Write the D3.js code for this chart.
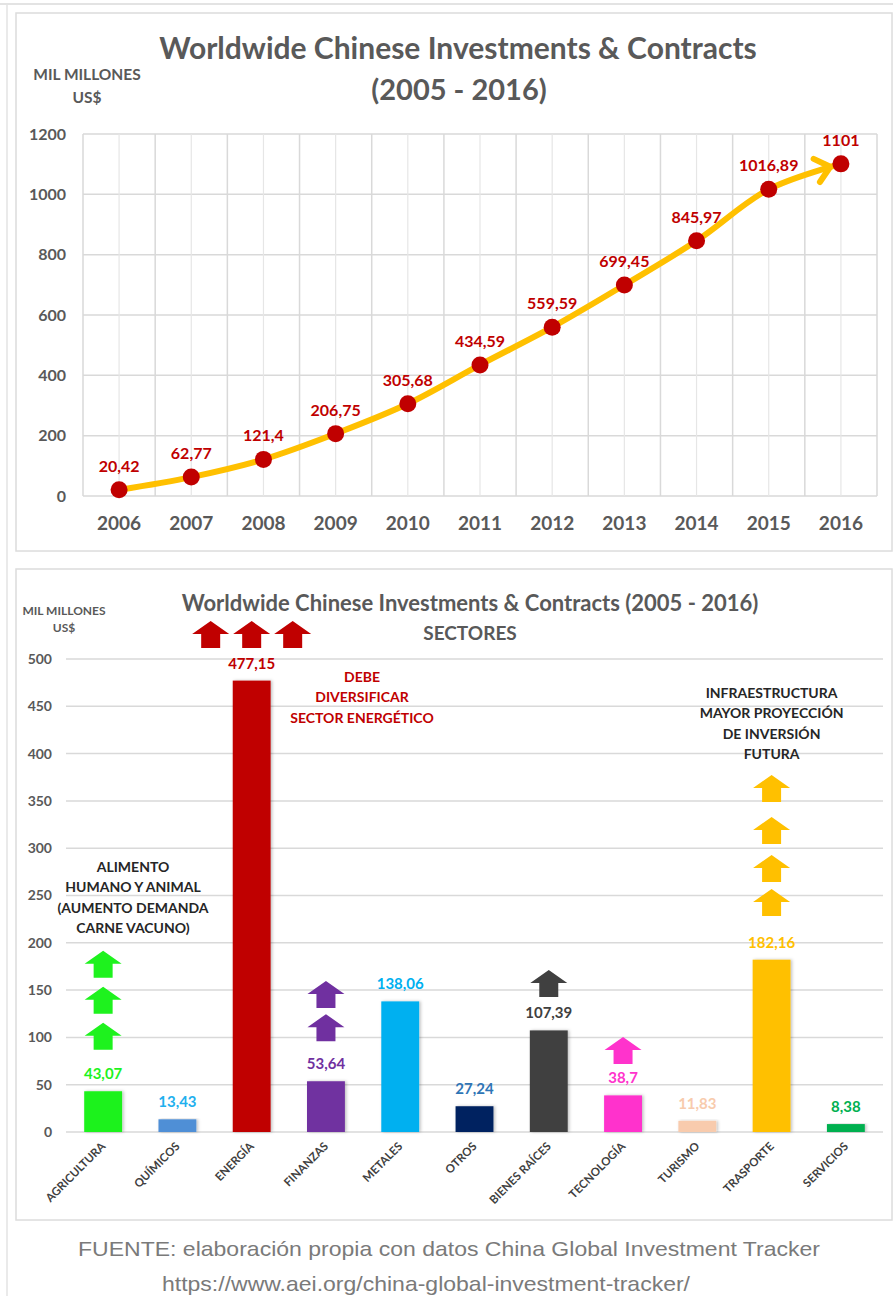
<!DOCTYPE html>
<html>
<head>
<meta charset="utf-8">
<script src="https://cdn.jsdelivr.net/npm/d3@7"></script>
<style>
  html, body { margin: 0; padding: 0; background: #ffffff; }
</style>
</head>
<body>
<svg id="page" width="893" height="1296"></svg>
<script>
// ---- Line chart: total Chinese investments & contracts (billion US$) ----
const years = [2006, 2007, 2008, 2009, 2010, 2011, 2012, 2013, 2014, 2015, 2016];
const totals = [20.42, 62.77, 121.4, 206.75, 305.68, 434.59, 559.59, 699.45, 845.97, 1016.89, 1101];
const totalTicks = [0, 200, 400, 600, 800, 1000, 1200];

// ---- Bar chart: by sector ----
const sectors = ["AGRICULTURA", "QUÍMICOS", "ENERGÍA", "FINANZAS", "METALES", "OTROS",
                 "BIENES RAÍCES", "TECNOLOGÍA", "TURISMO", "TRASPORTE", "SERVICIOS"];
const sectorValues = [43.07, 13.43, 477.15, 53.64, 138.06, 27.24, 107.39, 38.7, 11.83, 182.16, 8.38];
const sectorTicks = [0, 50, 100, 150, 200, 250, 300, 350, 400, 450, 500];
const barColors = ["#1ef21e", "#4f8fd6", "#c00000", "#7030a0", "#00b0f0", "#002060",
                   "#404040", "#ff33cc", "#f8cbad", "#ffc000", "#00b050"];
const barLabelColors = ["#1ef21e", "#1fb0ee", "#c00000", "#7030a0", "#00b0f0", "#2e75b6",
                        "#404040", "#ff33cc", "#f8cbad", "#ffc000", "#00b050"];

// Growth arrows: sector, colour, and the value at which each arrow's base sits
const growthArrows = [
  { sector: "ENERGÍA",       color: "#c00000", bases: [511.6], count: 3 },
  { sector: "AGRICULTURA",   color: "#1ef21e", bases: [163, 125, 87], count: 1 },
  { sector: "FINANZAS",      color: "#7030a0", bases: [131, 96], count: 1 },
  { sector: "BIENES RAÍCES", color: "#404040", bases: [142.7], count: 1 },
  { sector: "TECNOLOGÍA",    color: "#ff33cc", bases: [71.9], count: 1 },
  { sector: "TRASPORTE",     color: "#ffc000", bases: [348.8, 304.4, 264.3, 228.3], count: 1 }
];

const fmt = v => String(v).replace(".", ",");
const GRID = "#d9d9d9";
const AXIS_TEXT = "#595959";
const FONT = "Lato, 'Open Sans', sans-serif";

const svg = d3.select("#page").style("font-family", FONT);
svg.append("rect").attr("width", 893).attr("height", 1296).attr("fill", "#fff");
const defs = svg.append("defs");

// page frame and chart boxes
svg.append("line").attr("x1", 0).attr("x2", 893).attr("y1", 4).attr("y2", 4)
  .attr("stroke", "#e3e3e3").attr("stroke-width", 2);
svg.append("line").attr("x1", 7).attr("x2", 7).attr("y1", 4).attr("y2", 1296)
  .attr("stroke", "#e3e3e3").attr("stroke-width", 1.5);
svg.append("rect").attr("x", 16).attr("y", 13).attr("width", 876).attr("height", 538)
  .attr("fill", "#fff").attr("stroke", "#dcdcdc").attr("stroke-width", 1.5);
svg.append("rect").attr("x", 16).attr("y", 569).attr("width", 876).attr("height", 651)
  .attr("fill", "#fff").attr("stroke", "#dcdcdc").attr("stroke-width", 1.5);

// ================= LINE CHART =================
{
  const x = d3.scaleBand().domain(years).range([83, 877]).padding(0);
  const y = d3.scaleLinear().domain([0, 1200]).range([496, 134]);
  const cx = d => x(d) + x.bandwidth() / 2;
  const g = svg.append("g");

  // grid: horizontal at ticks, vertical at category edges and centres
  g.selectAll(".hg").data(totalTicks).join("line")
    .attr("x1", 83).attr("x2", 877).attr("y1", d => y(d)).attr("y2", d => y(d))
    .attr("stroke", GRID).attr("stroke-width", 1.5);
  const edges = years.map(d => x(d)).concat([x(years[years.length - 1]) + x.bandwidth()]);
  g.selectAll(".vg").data(edges).join("line")
    .attr("x1", d => d).attr("x2", d => d).attr("y1", y(1200)).attr("y2", y(0))
    .attr("stroke", GRID).attr("stroke-width", 1.5);
  g.selectAll(".vc").data(years).join("line")
    .attr("x1", d => cx(d)).attr("x2", d => cx(d)).attr("y1", y(1200)).attr("y2", y(0))
    .attr("stroke", "#e6e6e6").attr("stroke-width", 1.2);

  // axes
  const ya = g.append("g").attr("transform", "translate(83,0)")
    .call(d3.axisLeft(y).tickValues(totalTicks).tickFormat(d3.format("d"))
      .tickSize(0).tickPadding(17));
  ya.select(".domain").remove();
  ya.selectAll("text").attr("font-size", 16).attr("font-weight", 700)
    .attr("fill", AXIS_TEXT).attr("font-family", FONT);

  const xa = g.append("g").attr("transform", `translate(0,${y(0)})`)
    .call(d3.axisBottom(x).tickFormat(d3.format("d")).tickSize(0).tickPadding(21));
  xa.select(".domain").remove();
  xa.selectAll("text").attr("font-size", 19).attr("font-weight", 700)
    .attr("fill", AXIS_TEXT).attr("font-family", FONT);

  // smoothed trend line with an open arrow head
  defs.append("marker").attr("id", "vhead")
    .attr("markerUnits", "userSpaceOnUse").attr("orient", "auto")
    .attr("viewBox", "-24 -16 40 32").attr("markerWidth", 40).attr("markerHeight", 32)
    .attr("refX", 11).attr("refY", 0)
    .style("overflow", "visible")
    .append("path").attr("d", "M-14,-12 L0,0 L-14,12")
    .attr("fill", "none").attr("stroke", "#ffc000").attr("stroke-width", 6)
    .attr("stroke-linecap", "round").attr("stroke-linejoin", "round");

  const pts = years.map((yr, i) => [cx(yr), y(totals[i])]);
  g.append("path").datum(pts)
    .attr("d", d3.line().curve(d3.curveCatmullRom.alpha(0.5)))
    .attr("fill", "none").attr("stroke", "#ffc000").attr("stroke-width", 6)
    .attr("stroke-linecap", "round").attr("marker-end", "url(#vhead)");

  g.selectAll(".pt").data(years).join("circle")
    .attr("cx", d => cx(d)).attr("cy", (d, i) => y(totals[i])).attr("r", 8.5)
    .attr("fill", "#c00000");

  g.selectAll(".lbl").data(years).join("text")
    .attr("x", d => cx(d)).attr("y", (d, i) => y(totals[i]) - 18)
    .attr("text-anchor", "middle").attr("font-size", 16).attr("font-weight", 700)
    .attr("fill", "#c00000").text((d, i) => fmt(totals[i]));

  // titles
  g.append("text").attr("x", 458).attr("y", 59).attr("text-anchor", "middle")
    .attr("font-size", 30).attr("font-weight", 700).attr("fill", AXIS_TEXT)
    .text("Worldwide Chinese Investments & Contracts");
  g.append("text").attr("x", 459).attr("y", 100).attr("text-anchor", "middle")
    .attr("font-size", 29).attr("font-weight", 700).attr("fill", AXIS_TEXT)
    .text("(2005 - 2016)");
  g.append("text").attr("x", 87).attr("y", 80).attr("text-anchor", "middle")
    .attr("font-size", 15.5).attr("font-weight", 700).attr("fill", AXIS_TEXT)
    .text("MIL MILLONES");
  g.append("text").attr("x", 87).attr("y", 103).attr("text-anchor", "middle")
    .attr("font-size", 15.5).attr("font-weight", 700).attr("fill", AXIS_TEXT)
    .text("US$");
}

// ================= BAR CHART =================
{
  const x = d3.scaleBand().domain(sectors).range([66, 883]).paddingInner(0.49).paddingOuter(0.245);
  const y = d3.scaleLinear().domain([0, 500]).range([1132, 659]);
  const cx = d => x(d) + x.bandwidth() / 2;
  const g = svg.append("g");

  g.selectAll(".hg").data(sectorTicks).join("line")
    .attr("x1", 66).attr("x2", 883).attr("y1", d => y(d)).attr("y2", d => y(d))
    .attr("stroke", GRID).attr("stroke-width", 1.5);

  const ya = g.append("g").attr("transform", "translate(66,0)")
    .call(d3.axisLeft(y).tickValues(sectorTicks).tickFormat(d3.format("d"))
      .tickSize(0).tickPadding(14));
  ya.select(".domain").remove();
  ya.selectAll("text").attr("font-size", 14).attr("font-weight", 700)
    .attr("fill", AXIS_TEXT).attr("font-family", FONT);

  // soft shadow beside the bars
  const f = defs.append("filter").attr("id", "barShadow")
    .attr("x", "-20%").attr("y", "-10%").attr("width", "140%").attr("height", "120%");
  f.append("feDropShadow").attr("dx", 1.5).attr("dy", 0).attr("stdDeviation", 1.5)
    .attr("flood-color", "#000").attr("flood-opacity", 0.25);

  g.selectAll(".bar").data(sectors).join("rect")
    .attr("x", d => x(d)).attr("width", x.bandwidth())
    .attr("y", (d, i) => y(sectorValues[i]))
    .attr("height", (d, i) => y(0) - y(sectorValues[i]))
    .attr("fill", (d, i) => barColors[i]).attr("filter", "url(#barShadow)");

  g.selectAll(".val").data(sectors).join("text")
    .attr("x", d => cx(d)).attr("y", (d, i) => y(sectorValues[i]) - 12)
    .attr("text-anchor", "middle").attr("font-size", 15).attr("font-weight", 700)
    .attr("fill", (d, i) => barLabelColors[i]).text((d, i) => fmt(sectorValues[i]));

  // rotated category labels
  g.selectAll(".cat").data(sectors).join("text")
    .attr("transform", d => `translate(${cx(d) + 3},${y(0) + 15}) rotate(-45)`)
    .attr("text-anchor", "end").attr("font-size", 11.5).attr("font-weight", 700)
    .attr("fill", "#404040").text(d => d);

  // block up-arrows
  const AW = 37, SW = 19, HH = 13, H = 27, GAP = 41;
  const arrowPath = (c, b) =>
    `M${c - SW / 2},${b} L${c - SW / 2},${b - H + HH} L${c - AW / 2},${b - H + HH} ` +
    `L${c},${b - H} L${c + AW / 2},${b - H + HH} L${c + SW / 2},${b - H + HH} L${c + SW / 2},${b} Z`;
  growthArrows.forEach(a => {
    a.bases.forEach(v => {
      for (let k = 0; k < a.count; k++) {
        const c = cx(a.sector) + (k - (a.count - 1) / 2) * GAP;
        g.append("path").attr("d", arrowPath(c, y(v))).attr("fill", a.color);
      }
    });
  });

  // titles
  g.append("text").attr("x", 470).attr("y", 611).attr("text-anchor", "middle")
    .attr("font-size", 22).attr("font-weight", 700).attr("fill", AXIS_TEXT)
    .text("Worldwide Chinese Investments & Contracts (2005 - 2016)");
  g.append("text").attr("x", 470).attr("y", 640).attr("text-anchor", "middle")
    .attr("font-size", 19).attr("font-weight", 700).attr("fill", AXIS_TEXT)
    .text("SECTORES");
  g.append("text").attr("x", 64).attr("y", 615).attr("text-anchor", "middle")
    .attr("font-size", 12).attr("font-weight", 700).attr("fill", AXIS_TEXT)
    .text("MIL MILLONES");
  g.append("text").attr("x", 64).attr("y", 632).attr("text-anchor", "middle")
    .attr("font-size", 12).attr("font-weight", 700).attr("fill", AXIS_TEXT)
    .text("US$");

  // callouts
  const callout = (lines, xc, y0, color) => {
    lines.forEach((t, i) => g.append("text").attr("x", xc).attr("y", y0 + i * 20.3)
      .attr("text-anchor", "middle").attr("font-size", 14).attr("font-weight", 700)
      .attr("fill", color).text(t));
  };
  callout(["DEBE", "DIVERSIFICAR", "SECTOR ENERGÉTICO"], 362, 682, "#c00000");
  callout(["ALIMENTO", "HUMANO Y ANIMAL", "(AUMENTO DEMANDA", "CARNE VACUNO)"], 133, 872, "#262626");
  callout(["INFRAESTRUCTURA", "MAYOR PROYECCIÓN", "DE INVERSIÓN", "FUTURA"], cx("TRASPORTE"), 698, "#262626");
}

// source note
const NOTE_FONT = "'Liberation Sans', Arial, sans-serif";
svg.append("text").attr("x", 449).attr("y", 1256).attr("text-anchor", "middle")
  .style("font-family", NOTE_FONT).attr("font-size", 21)
  .attr("fill", "#7a7a7a").attr("textLength", 742).attr("lengthAdjust", "spacingAndGlyphs")
  .text("FUENTE: elaboración propia con datos China Global Investment Tracker");
svg.append("text").attr("x", 426).attr("y", 1291).attr("text-anchor", "middle")
  .style("font-family", NOTE_FONT).attr("font-size", 21)
  .attr("fill", "#7a7a7a").attr("textLength", 528).attr("lengthAdjust", "spacingAndGlyphs")
  .text("https://www.aei.org/china-global-investment-tracker/");
</script>
</body>
</html>
